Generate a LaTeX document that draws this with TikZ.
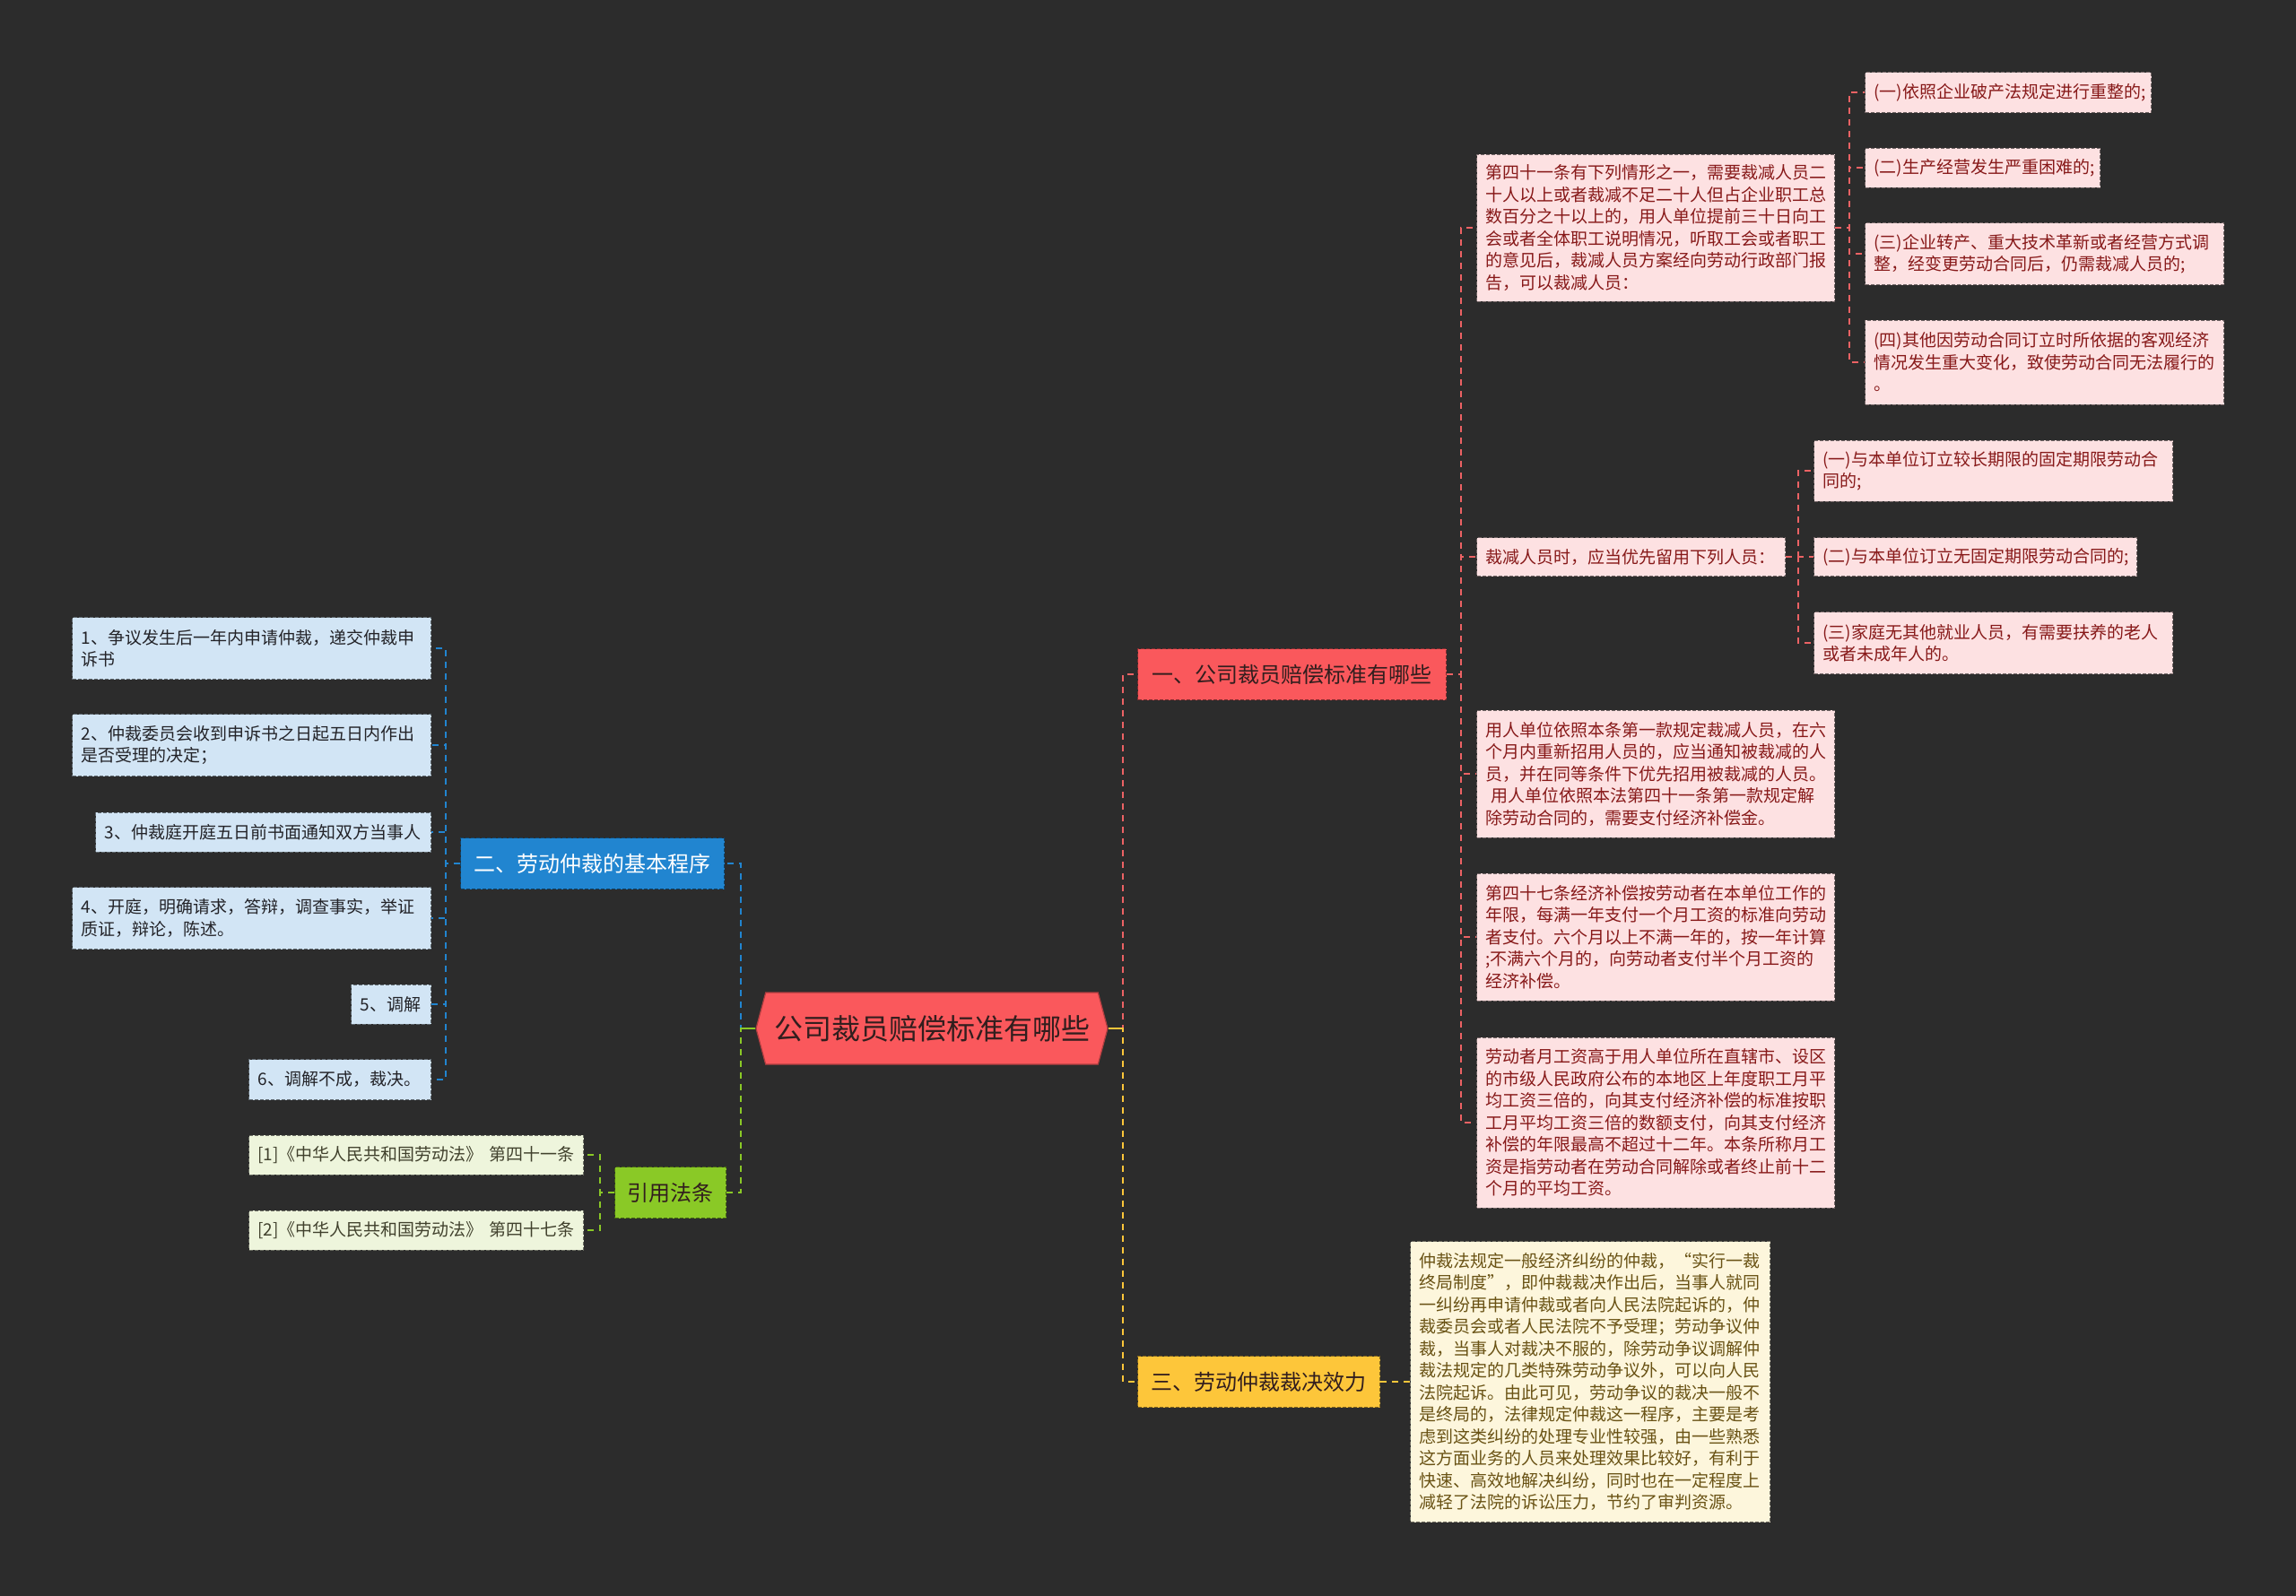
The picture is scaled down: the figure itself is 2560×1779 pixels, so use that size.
\documentclass[tikz,border=0pt]{standalone}
\usepackage{fontspec}
\newfontfamily\cjk{Noto Sans CJK SC}
\usetikzlibrary{shapes.symbols}
\definecolor{bg}{RGB}{44,44,44}
\definecolor{cmain}{RGB}{250,88,92}
\definecolor{cblue}{RGB}{33,133,208}
\definecolor{cyel}{RGB}{253,198,58}
\definecolor{cgreen}{RGB}{138,201,38}
\definecolor{cred}{RGB}{236,98,100}
\definecolor{pinkfill}{RGB}{253,225,226}
\definecolor{pinktext}{RGB}{135,25,25}
\definecolor{bluefill}{RGB}{210,229,245}
\definecolor{bluetext}{RGB}{35,35,40}
\definecolor{greenfill}{RGB}{238,245,220}
\definecolor{greentext}{RGB}{65,65,45}
\definecolor{yelfill}{RGB}{253,246,220}
\definecolor{yeltext}{RGB}{105,82,20}
\definecolor{darktext}{RGB}{50,30,30}
\tikzset{
  conn/.style={line width=1.1pt, dash pattern=on 3.5pt off 3pt},
  cbox/.style={draw, line width=0.5pt, dash pattern=on 2pt off 1pt, inner xsep=5pt, inner ysep=1pt, align=left, font=\cjk\fontsize{9.5}{12.25}\selectfont},
  pinkbox/.style={cbox, fill=pinkfill, draw=pinkfill!45!black, text=pinktext, anchor=west},
  bluebox/.style={cbox, fill=bluefill, draw=bluefill!45!black, text=bluetext, anchor=east},
  greenbox/.style={cbox, fill=greenfill, draw=greenfill!45!black, text=greentext, anchor=east},
  yelbox/.style={cbox, fill=yelfill, draw=yelfill!45!black, text=yeltext, anchor=west},
  branch/.style={draw, line width=0.5pt, dash pattern=on 2pt off 1pt, inner sep=0pt, align=center, font=\cjk\fontsize{12}{14}\selectfont, minimum height=28.5pt},
  mainnode/.style={shape=signal, signal to=east and west, signal pointer angle=150, fill=cmain, draw=cmain!70!black, line width=0.6pt, minimum width=196pt, minimum height=40pt, inner sep=0pt, font=\cjk\fontsize{16}{18}\selectfont, text=darktext}
}
\begin{document}
\begin{tikzpicture}[x=0.5pt,y=-0.5pt]
\useasboundingbox (0,0) rectangle (2560,1779);
\fill[bg] (-20,-20) rectangle (2580,1799);

% main and branches
\node[mainnode] (main) at (1039,1147) {公司裁员赔偿标准有哪些};
\node[branch, fill=cmain, draw=cmain!50!black, text=darktext, minimum width=172pt, anchor=west] (b1) at (1268,752) {一、公司裁员赔偿标准有哪些};
\node[branch, fill=cblue, draw=cblue!50!black, text=white, minimum width=147pt, anchor=east] (b2) at (808,963) {二、劳动仲裁的基本程序};
\node[branch, fill=cyel, draw=cyel!50!black, text=darktext, minimum width=135pt, anchor=west] (b3) at (1268,1541) {三、劳动仲裁裁决效力};
\node[branch, fill=cgreen, draw=cgreen!50!black, text=darktext, minimum width=62pt, anchor=east] (b4) at (810,1330) {引用法条};

% branch 1 children
\node[pinkbox, text width=189.5pt, minimum height=82pt] (A) at (1646,254) {第四十一条有下列情形之一，需要裁减人员二\\十人以上或者裁减不足二十人但占企业职工总\\数百分之十以上的，用人单位提前三十日向工\\会或者全体职工说明情况，听取工会或者职工\\的意见后，裁减人员方案经向劳动行政部门报\\告，可以裁减人员：};
\node[pinkbox, text width=162pt, minimum height=21.5pt] (B) at (1646,621) {裁减人员时，应当优先留用下列人员：};
\node[pinkbox, text width=189.5pt, minimum height=71pt] (C) at (1646,863) {用人单位依照本条第一款规定裁减人员，在六\\个月内重新招用人员的，应当通知被裁减的人\\员，并在同等条件下优先招用被裁减的人员。\\\ 用人单位依照本法第四十一条第一款规定解\\除劳动合同的，需要支付经济补偿金。};
\node[pinkbox, text width=189.5pt, minimum height=71pt] (D) at (1646,1045) {第四十七条经济补偿按劳动者在本单位工作的\\年限，每满一年支付一个月工资的标准向劳动\\者支付。六个月以上不满一年的，按一年计算\\;不满六个月的，向劳动者支付半个月工资的\\经济补偿。};
\node[pinkbox, text width=189.5pt, minimum height=95pt] (E) at (1646,1252) {劳动者月工资高于用人单位所在直辖市、设区\\的市级人民政府公布的本地区上年度职工月平\\均工资三倍的，向其支付经济补偿的标准按职\\工月平均工资三倍的数额支付，向其支付经济\\补偿的年限最高不超过十二年。本条所称月工\\资是指劳动者在劳动合同解除或者终止前十二\\个月的平均工资。};

\node[pinkbox, text width=149.5pt, minimum height=22.5pt] (A1) at (2079,103) {(一)依照企业破产法规定进行重整的;};
\node[pinkbox, text width=121pt, minimum height=22pt] (A2) at (2079,187) {(二)生产经营发生严重困难的;};
\node[pinkbox, text width=190pt, minimum height=34.5pt] (A3) at (2079,283) {(三)企业转产、重大技术革新或者经营方式调\\整，经变更劳动合同后，仍需裁减人员的;};
\node[pinkbox, text width=190pt, minimum height=47pt] (A4) at (2079,404) {(四)其他因劳动合同订立时所依据的客观经济\\情况发生重大变化，致使劳动合同无法履行的\\。};

\node[pinkbox, text width=190pt, minimum height=34pt] (B1) at (2022,525) {(一)与本单位订立较长期限的固定期限劳动合\\同的;};
\node[pinkbox, text width=170pt, minimum height=21.5pt] (B2) at (2022,621) {(二)与本单位订立无固定期限劳动合同的;};
\node[pinkbox, text width=190pt, minimum height=34.5pt] (B3) at (2022,717) {(三)家庭无其他就业人员，有需要扶养的老人\\或者未成年人的。};

% branch 2 children
\node[bluebox, text width=190pt, minimum height=34.5pt] (P1) at (481,723) {1、争议发生后一年内申请仲裁，递交仲裁申\\诉书};
\node[bluebox, text width=190pt, minimum height=34.5pt] (P2) at (481,831) {2、仲裁委员会收到申诉书之日起五日内作出\\是否受理的决定；};
\node[bluebox, text width=177pt, minimum height=22pt] (P3) at (481,928) {3、仲裁庭开庭五日前书面通知双方当事人};
\node[bluebox, text width=190pt, minimum height=34.5pt] (P4) at (481,1024) {4、开庭，明确请求，答辩，调查事实，举证\\质证，辩论，陈述。};
\node[bluebox, text width=34.5pt, minimum height=22pt] (P5) at (481,1120) {5、调解};
\node[bluebox, text width=91.5pt, minimum height=22.5pt] (P6) at (481,1204) {6、调解不成，裁决。};

% branch 4 children
\node[greenbox, text width=176.5pt, minimum height=22pt] (G1) at (651,1288) {[1]《中华人民共和国劳动法》 第四十一条};
\node[greenbox, text width=176.5pt, minimum height=22pt] (G2) at (651,1372) {[2]《中华人民共和国劳动法》 第四十七条};

% branch 3 child
\node[yelbox, text width=190.5pt, minimum height=156.5pt] (Y) at (1572,1541) {仲裁法规定一般经济纠纷的仲裁，“实行一裁\\终局制度”，即仲裁裁决作出后，当事人就同\\一纠纷再申请仲裁或者向人民法院起诉的，仲\\裁委员会或者人民法院不予受理；劳动争议仲\\裁，当事人对裁决不服的，除劳动争议调解仲\\裁法规定的几类特殊劳动争议外，可以向人民\\法院起诉。由此可见，劳动争议的裁决一般不\\是终局的，法律规定仲裁这一程序，主要是考\\虑到这类纠纷的处理专业性较强，由一些熟悉\\这方面业务的人员来处理效果比较好，有利于\\快速、高效地解决纠纷，同时也在一定程度上\\减轻了法院的诉讼压力，节约了审判资源。};

% junctions
\coordinate (jR) at (1252,1147);
\coordinate (jL) at (826,1147);
\coordinate (j1) at (1629,752);
\coordinate (jA) at (2062,254);
\coordinate (jB) at (2005,621);
\coordinate (j2) at (497,963);
\coordinate (j4) at (669,1330);

% connectors from main
\draw[conn, draw=cred] (main.east) -- (jR) |- (b1.west);
\draw[conn, draw=cyel] (main.east) -- (jR) |- (b3.west);
\draw[conn, draw=cblue] (main.west) -- (jL) |- (b2.east);
\draw[conn, draw=cgreen] (main.west) -- (jL) |- (b4.east);
\draw[line width=1.1pt, cyel] (main.east) -- (jR);
\draw[line width=1.1pt, cgreen] (main.west) -- (jL);

% branch 1
\foreach \n in {A,B,C,D,E} \draw[conn, draw=cred] (b1.east) -- (j1) |- (\n.west);
\foreach \n in {A1,A2,A3,A4} \draw[conn, draw=cred] (A.east) -- (jA) |- (\n.west);
\foreach \n in {B1,B2,B3} \draw[conn, draw=cred] (B.east) -- (jB) |- (\n.west);
% branch 2
\foreach \n in {P1,P2,P3,P4,P5,P6} \draw[conn, draw=cblue] (b2.west) -- (j2) |- (\n.east);
% branch 4
\foreach \n in {G1,G2} \draw[conn, draw=cgreen] (b4.west) -- (j4) |- (\n.east);
% branch 3
\draw[conn, draw=cyel] (b3.east) -- (Y.west);
\end{tikzpicture}
\end{document}
